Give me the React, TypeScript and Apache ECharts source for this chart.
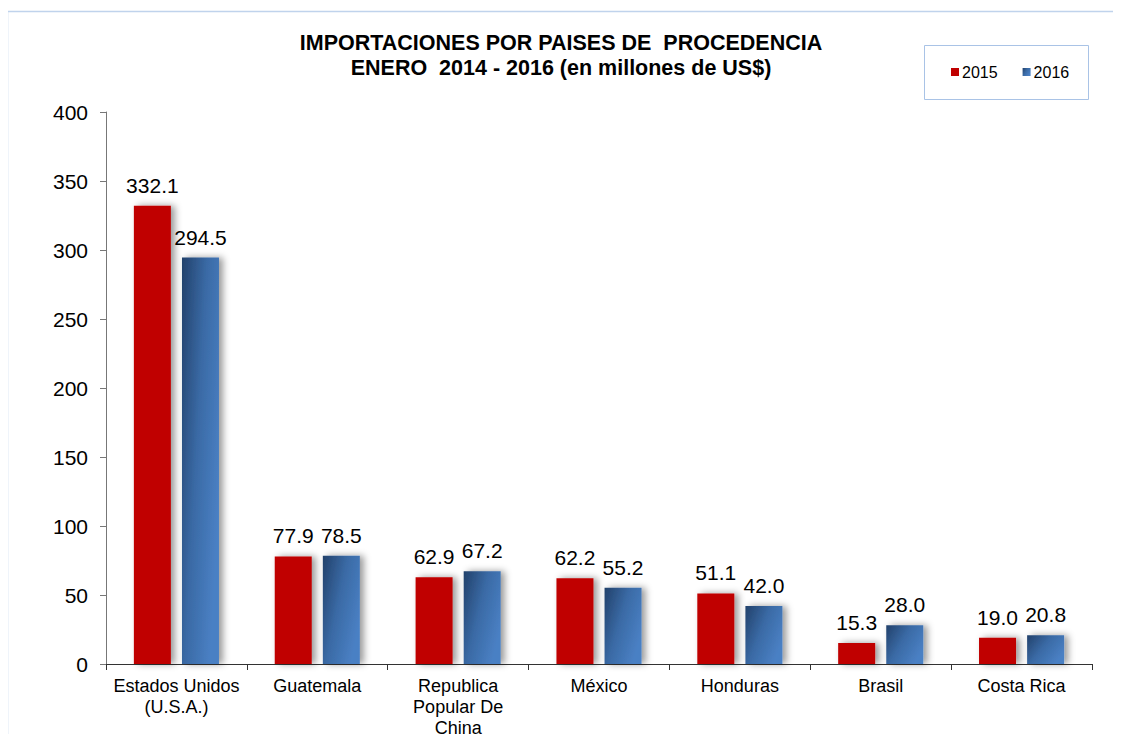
import React, { useEffect, useRef } from "react";
import * as echarts from "echarts";

const categories = [
  "Estados Unidos\n(U.S.A.)",
  "Guatemala",
  "Republica\nPopular De\nChina",
  "México",
  "Honduras",
  "Brasil",
  "Costa Rica",
];
const values2015 = [332.1, 77.9, 62.9, 62.2, 51.1, 15.3, 19.0];
const values2016 = [294.5, 78.5, 67.2, 55.2, 42.0, 28.0, 20.8];
const seriesNames = ["2015", "2016"];
const titleLines = [
  "IMPORTACIONES POR PAISES DE  PROCEDENCIA",
  "ENERO  2014 - 2016 (en millones de US$)",
];

export default function App() {
  const ref = useRef<HTMLDivElement>(null);
  useEffect(() => {
    if (!ref.current) return;
    const chart = echarts.init(ref.current, undefined, { renderer: "svg" });
    const font = "'Liberation Sans', Arial, sans-serif";
    const blue = new echarts.graphic.LinearGradient(0, 0, 1, 0.6, [
      { offset: 0, color: "#22416b" },
      { offset: 0.5, color: "#3a6aa5" },
      { offset: 1, color: "#4a80c4" },
    ]);
    const labelCfg = {
      show: true,
      position: "top" as const,
      distance: 10,
      fontSize: 21,
      fontFamily: font,
      color: "#000",
      formatter: (p: any) => Number(p.value).toFixed(1),
    };
    const shadow = {
      shadowColor: "rgba(0,0,0,0.4)",
      shadowBlur: 7,
      shadowOffsetX: 4,
      shadowOffsetY: 0,
    };
    chart.setOption({
      animation: false,
      backgroundColor: "#fff",
      textStyle: { fontFamily: font },
      title: {
        text: titleLines.join("\n"),
        left: 556,
        textAlign: "center",
        top: 25,
        textStyle: {
          fontSize: 21.5,
          fontWeight: "bold",
          fontFamily: font,
          color: "#000",
          lineHeight: 25,
        },
      },
      graphic: [
        {
          type: "rect",
          shape: { x: 7.5, y: 11.5, width: 1200, height: 800 },
          style: { fill: "none", stroke: "#c0d3ec", lineWidth: 1.5 },
          silent: true,
        },
        {
          type: "rect",
          shape: { x: 924.5, y: 45.5, width: 164, height: 54 },
          style: { fill: "#fff", stroke: "#a9c3e6", lineWidth: 1 },
          silent: true,
        },
      ],
      legend: {
        left: 951,
        top: 64,
        padding: 0,
        itemWidth: 8,
        itemHeight: 8,
        itemGap: 25,
        icon: "rect",
        textStyle: { fontSize: 16, fontFamily: font, color: "#000", padding: [0, 0, 0, -2] },
        data: seriesNames,
        z: 10,
      },
      grid: { left: 106, right: 29, top: 112, bottom: 78, containLabel: false },
      xAxis: {
        type: "category",
        data: categories,
        axisLine: { lineStyle: { color: "#333", width: 1 } },
        axisTick: { show: true, length: 6, lineStyle: { color: "#333" } },
        axisLabel: {
          fontSize: 18,
          fontFamily: font,
          color: "#000",
          lineHeight: 21,
          margin: 11,
          interval: 0,
        },
      },
      yAxis: {
        type: "value",
        min: 0,
        max: 400,
        interval: 50,
        axisLine: { show: true, lineStyle: { color: "#777" } },
        axisTick: { show: true, length: 6, lineStyle: { color: "#777" } },
        splitLine: { show: false },
        axisLabel: { fontSize: 21, fontFamily: font, color: "#000", margin: 18 },
      },
      series: [
        {
          name: seriesNames[0],
          type: "bar",
          data: values2015,
          barWidth: 37,
          barGap: "30%",
          itemStyle: { color: "#c00000", ...shadow },
          label: labelCfg,
        },
        {
          name: seriesNames[1],
          type: "bar",
          data: values2016,
          barWidth: 37,
          itemStyle: { color: blue, ...shadow },
          label: labelCfg,
        },
      ],
    });
    return () => chart.dispose();
  }, []);
  return <div ref={ref} style={{ width: 1121, height: 742, margin: -8 }} />;
}
